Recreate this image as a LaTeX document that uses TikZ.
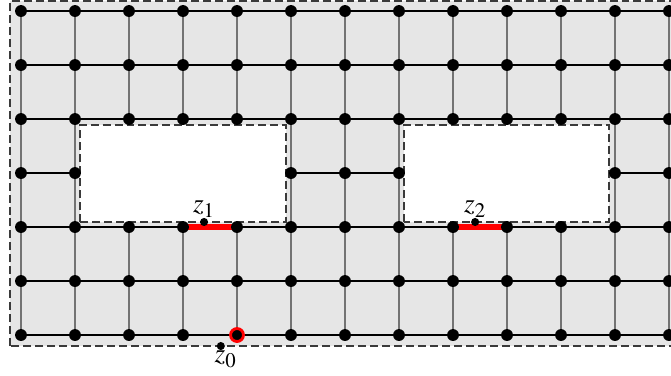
\documentclass[tikz,border=0pt]{standalone}
\usepackage{amsmath,amsfonts,amssymb}
\usepackage{mathptmx}
\usepackage{tikz}
\usepackage{xcolor}
\definecolor{cutred}{HTML}{FF0000}
\definecolor{region}{HTML}{E6E6E6}
\definecolor{frame}{HTML}{3A3A3A}

\begin{document}
\begin{tikzpicture}[
    dot/.style={circle, fill=black, inner sep=0pt, minimum size=0.22cm},
    smalldot/.style={circle, fill=black, inner sep=0pt, minimum size=0.15cm},
    hedge/.style={black, line width=0.7pt},
    vedge/.style={black!55, line width=0.8pt},
    frameline/.style={frame, line width=0.9pt, dash pattern=on 4.2pt off 2.1pt},
    hole/.style={frameline, fill=white},
    cutedge/.style={cutred, line width=2.8pt},
    zlabel/.style={inner sep=0pt, font=\Large}
  ]
    \useasboundingbox (-0.389,-0.741) rectangle (12.037,6.204);
    \clip (-0.389,-0.741) rectangle (12.037,6.204);

    \draw[frameline, fill=region] (-0.204,-0.204) rectangle (12.204,6.185);

    \foreach \i in {0,...,12}
      \foreach \j in {0,...,6}
        \coordinate (p-\i-\j) at (\i,\j);

    \foreach \j in {0,...,6}
      \foreach \i [count=\k from 1] in {0,...,11}
        \draw[hedge] (p-\i-\j) -- (p-\k-\j);
    \foreach \i in {0,...,12}
      \foreach \j [count=\k from 1] in {0,...,5}
        \draw[vedge] (p-\i-\j) -- (p-\i-\k);

    \draw[hole] (1.093,2.093) rectangle (4.907,3.889);
    \draw[hole] (7.093,2.093) rectangle (10.889,3.889);

    \draw[cutedge] (p-3-2) -- (p-4-2);
    \draw[cutedge] (p-8-2) -- (p-9-2);

    \foreach \i in {0,...,12}
      \foreach \j in {0,1,2,4,5,6}
        \node[dot] (d-\i-\j) at (p-\i-\j) {};
    \foreach \i in {0,1,5,6,7,11,12}
      \node[dot] (d-\i-3) at (p-\i-3) {};

    \node[dot, draw=cutred, line width=1.5pt, minimum size=0.24cm] (src) at (p-4-0) {};

    \node[smalldot, label={[zlabel]above:$z_1$}] (z1) at (3.39,2.093) {};
    \node[smalldot, label={[zlabel]above:$z_2$}] (z2) at (8.41,2.093) {};
    \node[smalldot, label={[zlabel, xshift=0.09cm]below:$z_0$}] (z0) at (3.70,-0.204) {};
  \end{tikzpicture}
\end{document}
